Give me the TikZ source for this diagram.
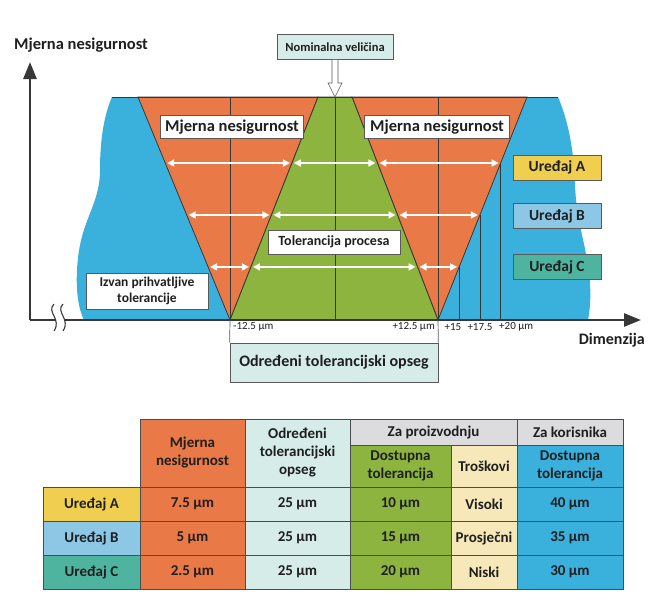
\documentclass[tikz,border=0pt]{standalone}
\usepackage{fontspec}
\setmainfont{Carlito}
\usetikzlibrary{arrows.meta, calc}
\definecolor{mjorange}{RGB}{233,121,70}
\definecolor{mjgreen}{RGB}{141,180,62}
\definecolor{mjblue}{RGB}{58,176,220}
\definecolor{mjteal}{RGB}{214,236,232}
\definecolor{mjyellow}{RGB}{240,207,80}
\definecolor{mjlblue}{RGB}{140,200,230}
\definecolor{mjcyan}{RGB}{78,180,160}
\definecolor{mjgray}{RGB}{220,220,222}
\definecolor{mjcream}{RGB}{246,232,185}
\definecolor{mjline}{RGB}{55,55,55}

\begin{document}
\begin{tikzpicture}[x=1pt, y=-1pt,
    every node/.style={font=\bfseries, text=black!88, inner sep=2pt},
    region/.style={draw=mjline, line width=0.8pt},
    textbox/.style={draw=gray!70!black, fill=white, line width=0.6pt,
                    font=\bfseries\fontsize{16.5}{18}\selectfont},
    device/.style={draw=gray!70!black, line width=0.6pt, minimum width=88,
                   minimum height=25, font=\bfseries\fontsize{15.5}{17}\selectfont},
    dimarrow/.style={white, line width=1.6pt,
                     {Triangle[length=7pt,width=7pt]}-{Triangle[length=7pt,width=7pt]},
                     shorten <=2pt, shorten >=2pt},
    axisline/.style={mjline, line width=2.6pt, -{Triangle[length=17pt,width=13pt]}},
    ticklabel/.style={font=\fontsize{11}{13}\selectfont, inner sep=1pt},
    cell/.style={draw=gray!60!black, line width=0.7pt, align=center, inner sep=1pt,
                 font=\bfseries\fontsize{15}{18}\selectfont}
]
\useasboundingbox (0,0) rectangle (652,602);

% corners of the regions
\coordinate (bl) at (112,97);
\coordinate (ol) at (138,97);
\coordinate (og) at (318,97);
\coordinate (gr) at (352,97);
\coordinate (or) at (527,97);
\coordinate (br) at (558,97);
\coordinate (la) at (230,320);
\coordinate (ra) at (438,320);
\coordinate (O) at (30,320);
\coordinate (nt) at ($(og)!0.5!(gr)$);

% outside tolerance
\fill[mjblue] (bl) -- (ol) -- (la) -- (84,320)
    .. controls (74,300) and (76,265) .. (80,245)
    .. controls (86,215) and (100,200) .. (100,170)
    .. controls (100,140) and (104,115) .. (bl) -- cycle;
\fill[mjblue] (or) -- (br)
    .. controls (568,120) and (574,150) .. (575,185)
    .. controls (576,215) and (584,240) .. (588,265)
    .. controls (592,290) and (590,310) .. (588,320) -- (ra) -- cycle;

% uncertainty and process tolerance
\filldraw[region, fill=mjorange] (ol) -- (og) -- (la) -- cycle;
\filldraw[region, fill=mjorange] (gr) -- (or) -- (ra) -- cycle;
\filldraw[region, fill=mjgreen] (og) -- (gr) -- (ra) -- (la) -- cycle;
\draw[region] (bl) -- (br);
\draw[region] (nt) -- (nt |- la);
\draw[region] (la |- ol) -- (la);
\draw[region] (ra |- ol) -- (ra);

\foreach \f in {0.296,0.529,0.762} {
  \coordinate (p1) at ($(ol)!\f!(la)$);
  \coordinate (p2) at ($(og)!\f!(la)$);
  \coordinate (p3) at ($(gr)!\f!(ra)$);
  \coordinate (p4) at ($(or)!\f!(ra)$);
  \draw[region, line width=0.6pt] (p4) -- (p4 |- ra);
  \draw[dimarrow] (p1) -- (p2);
  \draw[dimarrow] (p2) -- (p3);
  \draw[dimarrow] (p3) -- (p4);
}

% labels in the picture
\node[textbox, minimum width=143, minimum height=23] (mnl) at (232,127) {Mjerna nesigurnost};
\node[textbox, minimum width=145, minimum height=23] (mnr) at (437,127) {Mjerna nesigurnost};
\node[textbox, font=\bfseries\fontsize{14}{16}\selectfont, minimum width=132,
      minimum height=24] (tol) at (334,242) {Tolerancija procesa};
\node[textbox, font=\bfseries\fontsize{13.5}{16}\selectfont, align=center, minimum width=122,
      minimum height=36, inner sep=1pt] (izvan) at (147,291) {Izvan prihvatljive\\tolerancije};
\node[device, fill=mjyellow] (ua) at (557,167.5) {Uređaj A};
\node[device, fill=mjlblue] (ub) at (557,216) {Uređaj B};
\node[device, fill=mjcyan] (uc) at (557,267) {Uređaj C};

% nominal size
\node[textbox, fill=mjteal, font=\bfseries\fontsize{12.5}{14}\selectfont, minimum width=116,
      minimum height=25] (nom) at (335,47) {Nominalna veličina};
\draw[gray!70!black, fill=white, line width=0.6pt] ($(nom.south)+(-3,0)$)
    -- ($(nt)+(-3,-14)$) -- ($(nt)+(-7,-14)$) -- (nt) -- ($(nt)+(7,-14)$)
    -- ($(nt)+(3,-14)$) -- ($(nom.south)+(3,0)$);

% axes
\draw[axisline] (O) -- (30,62);
\draw[axisline] (O) -- (641,320);
\fill[white] (54,304) .. controls (46,312) and (62,319) .. (54,331)
    -- (63,331) .. controls (71,319) and (55,312) .. (63,304) -- cycle;
\draw[mjline, line width=1.1pt] (54,304) .. controls (46,312) and (62,319) .. (54,331);
\draw[mjline, line width=1.1pt] (63,304) .. controls (55,312) and (71,319) .. (63,331);
\node[font=\bfseries\fontsize{16.5}{18}\selectfont, anchor=west, inner sep=0pt] (ylab) at (14,45) {Mjerna nesigurnost};
\node[font=\bfseries\fontsize{16}{18}\selectfont, anchor=east, inner sep=0pt] (xlab) at (645,340) {Dimenzija};

% tick labels and tolerance range
\node[ticklabel, anchor=west] (tm) at (232,327) {-12.5 µm};
\node[ticklabel, anchor=east] (tp) at (436,327) {+12.5 µm};
\node[ticklabel] (t15) at (453,327) {+15};
\node[ticklabel] (t17) at (480,327) {+17.5};
\node[ticklabel, anchor=west] (t20) at (498,327) {+20 µm};
\node[draw=gray!70!black, line width=0.7pt, fill=mjteal, minimum width=208, minimum height=39,
      font=\bfseries\fontsize{16}{18}\selectfont] (opseg) at (334,362.5) {Određeni tolerancijski opseg};
\draw[gray!70!black, line width=0.7pt] (la) -- (opseg.north west);
\draw[gray!70!black, line width=0.7pt] (ra) -- (opseg.north east);

% table
\node[cell, fill=mjorange, minimum width=105, minimum height=68] (hm) at (192.5,453) {Mjerna\\nesigurnost};
\node[cell, fill=mjteal, minimum width=105, minimum height=68] (ho) at (297.5,453) {Određeni\\tolerancijski\\opseg};
\node[cell, fill=mjgray, minimum width=167, minimum height=26] (hp) at (433.5,432) {Za proizvodnju};
\node[cell, fill=mjgray, minimum width=106, minimum height=26] (hk) at (570,432) {Za korisnika};
\node[cell, fill=mjgreen, minimum width=101, minimum height=42] (hd) at (400.5,466) {Dostupna\\tolerancija};
\node[cell, fill=mjcream, minimum width=66, minimum height=42] (ht) at (484,466) {Troškovi};
\node[cell, fill=mjblue, minimum width=106, minimum height=42] (hu) at (570,466) {Dostupna\\tolerancija};

\node[cell, fill=mjyellow, minimum width=97, minimum height=34] (ra0) at (91.5,504) {Uređaj A};
\node[cell, fill=mjorange, minimum width=105, minimum height=34] (ra1) at (192.5,504) {7.5 µm};
\node[cell, fill=mjteal, minimum width=105, minimum height=34] (ra2) at (297.5,504) {25 µm};
\node[cell, fill=mjgreen, minimum width=101, minimum height=34] (ra3) at (400.5,504) {10 µm};
\node[cell, fill=mjcream, minimum width=66, minimum height=34] (ra4) at (484,504) {Visoki};
\node[cell, fill=mjblue, minimum width=106, minimum height=34] (ra5) at (570,504) {40 µm};

\node[cell, fill=mjlblue, minimum width=97, minimum height=34] (rb0) at (91.5,538) {Uređaj B};
\node[cell, fill=mjorange, minimum width=105, minimum height=34] (rb1) at (192.5,538) {5 µm};
\node[cell, fill=mjteal, minimum width=105, minimum height=34] (rb2) at (297.5,538) {25 µm};
\node[cell, fill=mjgreen, minimum width=101, minimum height=34] (rb3) at (400.5,538) {15 µm};
\node[cell, fill=mjcream, minimum width=66, minimum height=34] (rb4) at (484,538) {Prosječni};
\node[cell, fill=mjblue, minimum width=106, minimum height=34] (rb5) at (570,538) {35 µm};

\node[cell, fill=mjcyan, minimum width=97, minimum height=34] (rc0) at (91.5,572) {Uređaj C};
\node[cell, fill=mjorange, minimum width=105, minimum height=34] (rc1) at (192.5,572) {2.5 µm};
\node[cell, fill=mjteal, minimum width=105, minimum height=34] (rc2) at (297.5,572) {25 µm};
\node[cell, fill=mjgreen, minimum width=101, minimum height=34] (rc3) at (400.5,572) {20 µm};
\node[cell, fill=mjcream, minimum width=66, minimum height=34] (rc4) at (484,572) {Niski};
\node[cell, fill=mjblue, minimum width=106, minimum height=34] (rc5) at (570,572) {30 µm};
\end{tikzpicture}
\end{document}
